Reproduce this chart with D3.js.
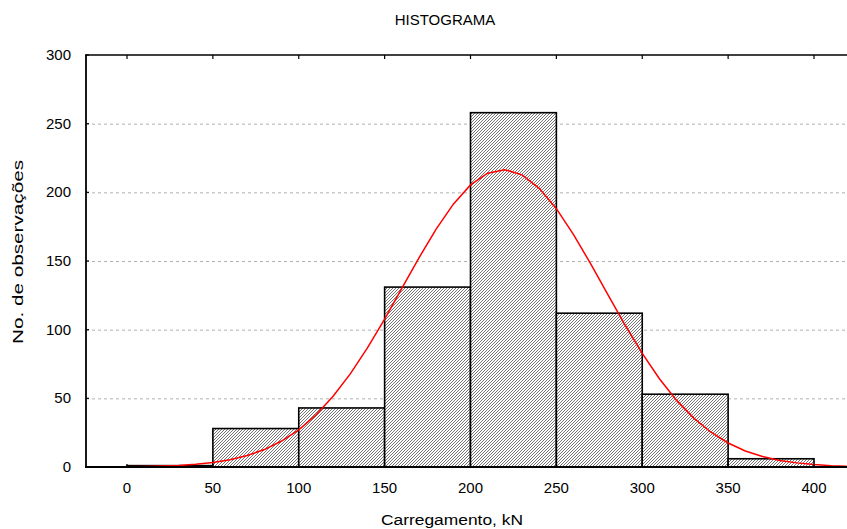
<!DOCTYPE html>
<html>
<head>
<meta charset="utf-8">
<script src="https://cdn.jsdelivr.net/npm/d3@7"></script>
<style>
  html, body { margin: 0; padding: 0; background: #fff; }
  svg { display: block; font-family: "Liberation Sans", Arial, sans-serif; }
</style>
</head>
<body>
<svg id="chart" width="847" height="529"></svg>
<script>
// Histogram classes (kN) and counts
const binStarts = [0, 50, 100, 150, 200, 250, 300, 350];
const binWidth = 50;
const counts = [1, 28, 43, 131, 258, 112, 53, 6];

// Fitted normal curve, sampled along the load axis
const curveX = [-24, -20, -10, 0, 10, 20, 30, 40, 50, 60, 70, 80, 90, 100, 110, 120, 130, 140, 150,
  160, 170, 180, 190, 200, 210, 220, 230, 240, 250, 260, 270, 280, 290, 300, 310, 320, 330,
  340, 350, 360, 370, 380, 390, 400, 410, 419];
const curveY = [0.02, 0.05, 0.1, 0.19, 0.36, 0.65, 1.15, 1.97, 3.3, 5.3, 8.4, 12.7, 18.9, 27.1, 37.9,
  51.5, 67.8, 86.7, 107.7, 130.0, 152.3, 173.2, 191.4, 205.4, 213.9, 216.5, 212.7, 202.9, 188.1,
  169.2, 147.9, 125.5, 103.4, 82.7, 64.3, 48.5, 35.6, 25.3, 17.5, 11.7, 7.6, 4.8, 3.0, 1.8, 1.0, 0.6];

const xTicks = [0, 50, 100, 150, 200, 250, 300, 350, 400];
const yTicks = [0, 50, 100, 150, 200, 250, 300];

const svg = d3.select("#chart");
const plotLeft = 86, plotRight = 847, plotTop = 55, plotBottom = 467;

const x = d3.scaleLinear().domain([0, 400]).range([127, 814]);
const y = d3.scaleLinear().domain([0, 300]).range([plotBottom, plotTop]);

// hatch fill for the bars
const defs = svg.append("defs");
const pat = defs.append("pattern")
  .attr("id", "hatch")
  .attr("patternUnits", "userSpaceOnUse")
  .attr("width", 3).attr("height", 3);
pat.append("rect").attr("width", 3).attr("height", 3).attr("fill", "#ffffff");
pat.append("path")
  .attr("d", "M-1,1 l2,-2 M0,3 l3,-3 M2,4 l2,-2")
  .attr("stroke", "#2a2a2a").attr("stroke-width", 0.65);

defs.append("clipPath").attr("id", "plotclip")
  .append("rect").attr("x", plotLeft).attr("y", plotTop - 2)
  .attr("width", plotRight - plotLeft).attr("height", plotBottom - plotTop + 4);

// dashed grid
svg.append("g")
  .selectAll("line")
  .data(yTicks.filter(d => d > 0 && d < 300))
  .join("line")
  .attr("x1", plotLeft).attr("x2", plotRight)
  .attr("y1", d => y(d) + 0.5).attr("y2", d => y(d) + 0.5)
  .attr("stroke", "#b0b0b0").attr("stroke-width", 1)
  .attr("stroke-dasharray", "3,3");

// bars
svg.append("g")
  .selectAll("rect")
  .data(counts)
  .join("rect")
  .attr("x", (d, i) => x(binStarts[i]))
  .attr("y", d => y(d))
  .attr("width", (d, i) => x(binStarts[i] + binWidth) - x(binStarts[i]))
  .attr("height", d => plotBottom - y(d))
  .attr("fill", "url(#hatch)")
  .attr("stroke", "#000").attr("stroke-width", 1.6);

// normal curve
const line = d3.line()
  .x((d, i) => x(curveX[i]))
  .y(d => y(d));
svg.append("path")
  .attr("clip-path", "url(#plotclip)")
  .attr("d", line(curveY))
  .attr("fill", "none")
  .attr("stroke", "#ff0000").attr("stroke-width", 1.5);

// frame: left, bottom and top edges
svg.append("line").attr("x1", plotLeft).attr("x2", plotLeft).attr("y1", plotTop).attr("y2", plotBottom)
  .attr("stroke", "#000").attr("stroke-width", 1.8);
svg.append("line").attr("x1", plotLeft - 1).attr("x2", plotRight).attr("y1", plotBottom).attr("y2", plotBottom)
  .attr("stroke", "#000").attr("stroke-width", 1.8);
svg.append("line").attr("x1", plotLeft - 1).attr("x2", plotRight).attr("y1", plotTop).attr("y2", plotTop)
  .attr("stroke", "#000").attr("stroke-width", 1.5);

// ticks on top edge (pointing inward)
svg.append("g").selectAll("line").data(xTicks).join("line")
  .attr("x1", d => x(d)).attr("x2", d => x(d))
  .attr("y1", plotTop).attr("y2", plotTop + 4)
  .attr("stroke", "#000").attr("stroke-width", 1.2);
// ticks on bottom edge (pointing inward)
svg.append("g").selectAll("line").data(xTicks).join("line")
  .attr("x1", d => x(d)).attr("x2", d => x(d))
  .attr("y1", plotBottom).attr("y2", plotBottom - 3)
  .attr("stroke", "#000").attr("stroke-width", 1.2);
// ticks on left edge
svg.append("g").selectAll("line").data(yTicks).join("line")
  .attr("x1", plotLeft).attr("x2", plotLeft + 3)
  .attr("y1", d => y(d)).attr("y2", d => y(d))
  .attr("stroke", "#000").attr("stroke-width", 1.2);

// tick labels
svg.append("g").selectAll("text").data(xTicks).join("text")
  .attr("x", d => x(d)).attr("y", 493)
  .attr("text-anchor", "middle")
  .attr("font-size", 15).attr("fill", "#000")
  .text(d => d);
svg.append("g").selectAll("text").data(yTicks).join("text")
  .attr("x", 71).attr("y", d => y(d) + 5)
  .attr("text-anchor", "end")
  .attr("font-size", 15).attr("fill", "#000")
  .text(d => d);

// titles
svg.append("text")
  .attr("x", 445).attr("y", 25)
  .attr("text-anchor", "middle")
  .attr("font-size", 15).attr("fill", "#000")
  .text("HISTOGRAMA");
svg.append("text")
  .attr("x", 452).attr("y", 525)
  .attr("text-anchor", "middle")
  .attr("font-size", 15.5).attr("fill", "#000")
  .attr("textLength", 142).attr("lengthAdjust", "spacingAndGlyphs")
  .text("Carregamento, kN");
svg.append("text")
  .attr("transform", "translate(23,252) rotate(-90)")
  .attr("text-anchor", "middle")
  .attr("font-size", 15.5).attr("fill", "#000")
  .attr("textLength", 184).attr("lengthAdjust", "spacingAndGlyphs")
  .text("No. de observações");
</script>
</body>
</html>
